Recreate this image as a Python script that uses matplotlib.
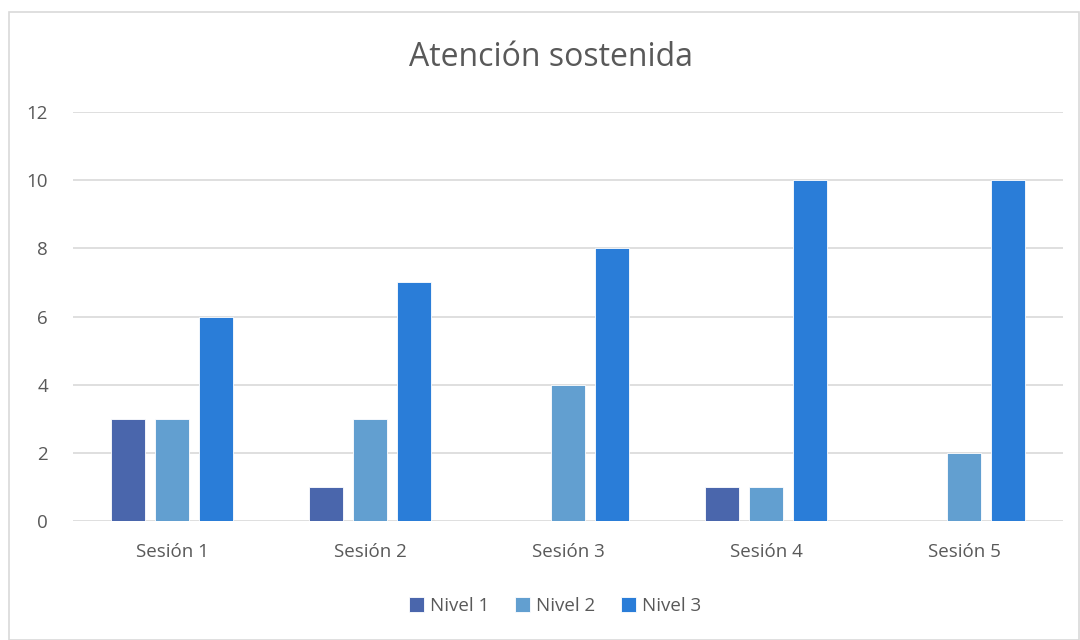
import numpy as np
import matplotlib.pyplot as plt
from matplotlib.patches import Rectangle

sessions = ["Sesión 1", "Sesión 2", "Sesión 3", "Sesión 4", "Sesión 5"]
nivel1 = [3, 1, 0, 1, 0]
nivel2 = [3, 3, 4, 1, 2]
nivel3 = [6, 7, 8, 10, 10]
series = ["Nivel 1", "Nivel 2", "Nivel 3"]
colors = ["#4A66AC", "#629FD0", "#2A7DD8"]

plt.rcParams["font.family"] = ["Open Sans", "DejaVu Sans"]

fig = plt.figure(figsize=(10.8, 6.4), dpi=100)
fig.patches.append(Rectangle((9 / 1080, 0), 1 - 10 / 1080, 1 - 12 / 640,
                             transform=fig.transFigure, fill=False,
                             edgecolor="#D9D9D9", linewidth=1.2))
ax = fig.add_axes([73 / 1080, 1 - 521 / 640, 990 / 1080, 409 / 640])

x = np.arange(len(sessions))
w = 34 / 198
step = 44 / 198
for i, (vals, name, c) in enumerate(zip([nivel1, nivel2, nivel3], series, colors)):
    ax.bar(x + (i - 1) * step, vals, width=w, color=c, label=name,
           edgecolor="white", linewidth=0.6, zorder=3)

ax.set_xlim(-0.5, 4.5)
ax.set_ylim(0, 12)
ax.set_yticks(range(0, 13, 2))
ax.set_xticks(x)
ax.set_xticklabels(sessions)
ax.grid(axis="y", color="#D9D9D9", linewidth=1.2, zorder=0)
for s in ax.spines.values():
    s.set_visible(False)
ax.tick_params(length=0, labelsize=13.5, labelcolor="#595959")
ax.tick_params(axis="y", pad=18)
ax.tick_params(axis="x", pad=16)

fig.text(551 / 1080, 1 - 57 / 640, "Atención sostenida", ha="center", va="center",
         fontsize=23, color="#595959")
fig.legend(loc="center", bbox_to_anchor=(555 / 1080, 1 - 606 / 640), ncol=3,
           frameon=False, fontsize=13.5, labelcolor="#595959", handlelength=0.8,
           handleheight=0.8, handletextpad=0.3, columnspacing=1.4)

fig.savefig("out.png", dpi=100)
